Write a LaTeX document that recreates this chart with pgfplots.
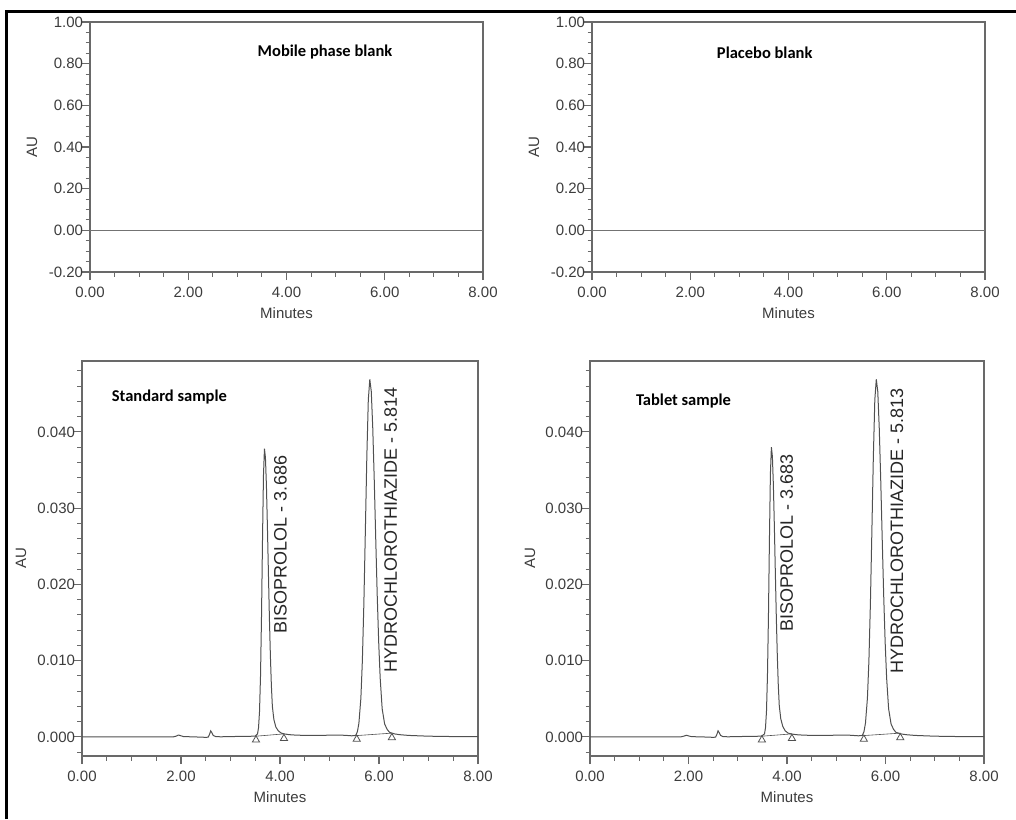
\documentclass[border=0pt]{standalone}
\usepackage{fontspec}
\setmainfont{Liberation Sans}
\newfontfamily\titlefont{Carlito}
\usepackage{pgfplots}
\pgfplotsset{compat=1.18}
\definecolor{axisgray}{RGB}{105,105,105}
\definecolor{textgray}{RGB}{60,60,60}
\definecolor{tracegray}{RGB}{80,80,80}
\definecolor{zerogray}{RGB}{115,115,115}
\pgfplotsset{
  chrom/.style={
    scale only axis,
    scaled y ticks=false, scaled x ticks=false,
    axis line style={draw=axisgray, line width=1.1pt},
    every tick/.style={draw=axisgray, line width=1.1pt},
    tick align=outside,
    xtick pos=left, ytick pos=left,
    major tick length=8pt, minor tick length=4.5pt,
    xmin=0, xmax=8,
    xtick={0,2,4,6,8}, xticklabels={0.00,2.00,4.00,6.00,8.00},
    minor xtick={0.5,1,1.5,2.5,3,3.5,4.5,5,5.5,6.5,7,7.5},
    ticklabel style={font=\fontsize{15}{18}\selectfont, text=textgray},
    yticklabel style={xshift=4.5pt},
    xticklabel style={yshift=-3.5pt},
    label style={font=\fontsize{15}{18}\selectfont, text=textgray},
    xlabel=Minutes, ylabel=AU,
    clip=false,
  },
  toppanel/.style={
    chrom, width=393pt, height=250pt,
    ymin=-0.2, ymax=1.0,
    ytick={-0.2,0,0.2,0.4,0.6,0.8,1.0},
    yticklabels={-0.20,0.00,0.20,0.40,0.60,0.80,1.00},
    minor ytick={-0.15,-0.1,-0.05,0.05,0.1,0.15,0.25,0.3,0.35,0.45,0.5,0.55,0.65,0.7,0.75,0.85,0.9,0.95},
    xlabel style={at={(axis description cs:0.5,-0.164)}, anchor=center},
    ylabel style={at={(axis description cs:-0.1476,0.5)}, anchor=center},
  },
  botpanel/.style={
    chrom, height=395pt,
    ymin=-0.0025, ymax=0.0493,
    ytick={0,0.01,0.02,0.03,0.04},
    yticklabels={0.000,0.010,0.020,0.030,0.040},
    minor ytick={-0.002,0.002,0.004,0.006,0.008,0.012,0.014,0.016,0.018,0.022,0.024,0.026,0.028,0.032,0.034,0.036,0.038,0.042,0.044,0.046,0.048},
    xlabel style={at={(axis description cs:0.5,-0.103)}, anchor=center},
  },
  trace/.style={draw=tracegray, line width=1pt, no marks},
  tri/.style={only marks, mark=triangle, mark size=4.2pt, mark options={draw=tracegray, line width=0.8pt, fill=white}},
  intbase/.style={draw=tracegray, line width=0.6pt, no marks},
}
\newcommand{\ptitle}{\titlefont\bfseries\fontsize{16.5}{20}\selectfont}
\newcommand{\plabel}{\fontsize{18}{21}\selectfont}
\begin{document}
\begin{tikzpicture}
\path[use as bounding box] (0,0) rectangle (1016pt,-819pt);
\draw[line width=3pt, black] (6.6pt,-819pt) -- (6.6pt,-11.2pt) -- (1016pt,-11.2pt);

% ---- Mobile phase blank ----
\begin{axis}[toppanel, at={(90pt,-272pt)}, anchor=south west]
\addplot[draw=zerogray, line width=1pt] coordinates {(0,0) (8,0)};
\node[anchor=west, inner sep=0pt, text=black] at (axis cs:3.41,0.857) {\ptitle Mobile phase blank};
\end{axis}

% ---- Placebo blank ----
\begin{axis}[toppanel, at={(592pt,-272pt)}, anchor=south west]
\addplot[draw=zerogray, line width=1pt] coordinates {(0,0) (8,0)};
\node[anchor=west, inner sep=0pt, text=black] at (axis cs:2.54,0.85) {\ptitle Placebo blank};
\end{axis}

% ---- Standard sample ----
\begin{axis}[botpanel, width=396pt, at={(82pt,-756pt)}, anchor=south west,
  ylabel style={at={(axis description cs:-0.154,0.5)}, anchor=center}]
\addplot[trace] coordinates {
(0,0) (0.5,0) (1.0,0) (1.5,0.00002) (1.85,0.00002) (1.90,0.0001) (1.95,0.00025) (2.00,0.00015) (2.05,0.00005)
(2.3,0) (2.5,-0.00005) (2.55,-0.00003) (2.58,0.0004) (2.60,0.0008) (2.62,0.0006) (2.65,0.0002) (2.70,0.00005)
(2.8,0.00002) (3.0,0.00005) (3.3,0.00008) (3.50,0.0001)
(3.546,0.0004) (3.566,0.0012) (3.586,0.0033) (3.606,0.0079) (3.626,0.0156) (3.646,0.0256) (3.666,0.0343)
(3.686,0.0378) (3.706,0.0366) (3.726,0.0329) (3.746,0.0275) (3.766,0.0215) (3.786,0.0156) (3.806,0.0106)
(3.826,0.0067) (3.846,0.0040) (3.876,0.0023) (3.916,0.0013) (3.966,0.0008) (4.026,0.0005) (4.086,0.0004)
(4.186,0.0003) (4.3,0.00025) (4.5,0.0002) (4.8,0.0002) (5.1,0.00025) (5.3,0.00022) (5.45,0.00015) (5.53,0.0002)
(5.564,0.0007) (5.594,0.0018) (5.634,0.0051) (5.664,0.0100) (5.694,0.0174) (5.724,0.0269) (5.754,0.0367)
(5.784,0.0442) (5.814,0.0469) (5.844,0.0453) (5.874,0.0405) (5.904,0.0337) (5.934,0.0260) (5.964,0.0186)
(5.994,0.0124) (6.024,0.0077) (6.064,0.0037) (6.114,0.0017) (6.164,0.0010) (6.214,0.0006) (6.314,0.0004)
(6.414,0.0003) (6.6,0.0002) (7.0,0.0001) (7.5,0.00005) (8.0,0.00005)
};
\addplot[intbase] coordinates {(3.515,0.0001) (4.08,0.0004)};
\addplot[intbase] coordinates {(5.55,0.00018) (6.26,0.0005)};
\addplot[tri] coordinates {(3.515,-0.0004) (4.08,-0.0002) (5.55,-0.0003) (6.26,-0.0001)};
\node[anchor=west, inner sep=0pt, text=black] at (axis cs:0.60,0.0446) {\ptitle Standard sample};
\node[rotate=90, anchor=base west, inner sep=0pt, text=black!85] at (axis cs:4.135,0.0136) {\plabel BISOPROLOL - 3.686};
\node[rotate=90, anchor=base west, inner sep=0pt, text=black!85] at (axis cs:6.36,0.0084) {\plabel HYDROCHLOROTHIAZIDE - 5.814};
\end{axis}

% ---- Tablet sample ----
\begin{axis}[botpanel, width=394pt, at={(590pt,-756pt)}, anchor=south west,
  ylabel style={at={(axis description cs:-0.152,0.5)}, anchor=center}]
\addplot[trace] coordinates {
(0,0) (0.5,0) (1.0,0) (1.5,0.00002) (1.85,0.00002) (1.90,0.0001) (1.96,0.00022) (2.01,0.00012) (2.06,0.00004)
(2.3,0) (2.5,-0.00005) (2.55,-0.00003) (2.58,0.0004) (2.60,0.0008) (2.62,0.0006) (2.65,0.0002) (2.70,0.00005)
(2.8,0.00002) (3.0,0.00005) (3.3,0.00008) (3.48,0.0001)
(3.543,0.0004) (3.563,0.0012) (3.583,0.0033) (3.603,0.0080) (3.623,0.0157) (3.643,0.0258) (3.663,0.0345)
(3.683,0.0380) (3.703,0.0368) (3.723,0.0331) (3.743,0.0277) (3.763,0.0216) (3.783,0.0157) (3.803,0.0107)
(3.823,0.0068) (3.843,0.0041) (3.873,0.0024) (3.913,0.0014) (3.963,0.0008) (4.023,0.0005) (4.083,0.0004)
(4.183,0.0003) (4.3,0.00025) (4.5,0.0002) (4.8,0.0002) (5.1,0.00025) (5.3,0.00022) (5.45,0.00015) (5.53,0.0002)
(5.563,0.0007) (5.593,0.0018) (5.633,0.0051) (5.663,0.0100) (5.693,0.0174) (5.723,0.0269) (5.753,0.0367)
(5.783,0.0442) (5.813,0.0469) (5.843,0.0453) (5.873,0.0405) (5.903,0.0337) (5.933,0.0260) (5.963,0.0186)
(5.993,0.0124) (6.023,0.0077) (6.063,0.0037) (6.113,0.0017) (6.163,0.0010) (6.213,0.0006) (6.313,0.0004)
(6.413,0.0003) (6.6,0.0002) (7.0,0.0001) (7.5,0.00005) (8.0,0.00005)
};
\addplot[intbase] coordinates {(3.49,0.0001) (4.10,0.0004)};
\addplot[intbase] coordinates {(5.56,0.00018) (6.30,0.0005)};
\addplot[tri] coordinates {(3.49,-0.0004) (4.10,-0.0002) (5.56,-0.0003) (6.30,-0.0001)};
\node[anchor=west, inner sep=0pt, text=black] at (axis cs:0.93,0.0441) {\ptitle Tablet sample};
\node[rotate=90, anchor=base west, inner sep=0pt, text=black!85] at (axis cs:4.12,0.0138) {\plabel BISOPROLOL - 3.683};
\node[rotate=90, anchor=base west, inner sep=0pt, text=black!85] at (axis cs:6.36,0.0083) {\plabel HYDROCHLOROTHIAZIDE - 5.813};
\end{axis}
\end{tikzpicture}
\end{document}
